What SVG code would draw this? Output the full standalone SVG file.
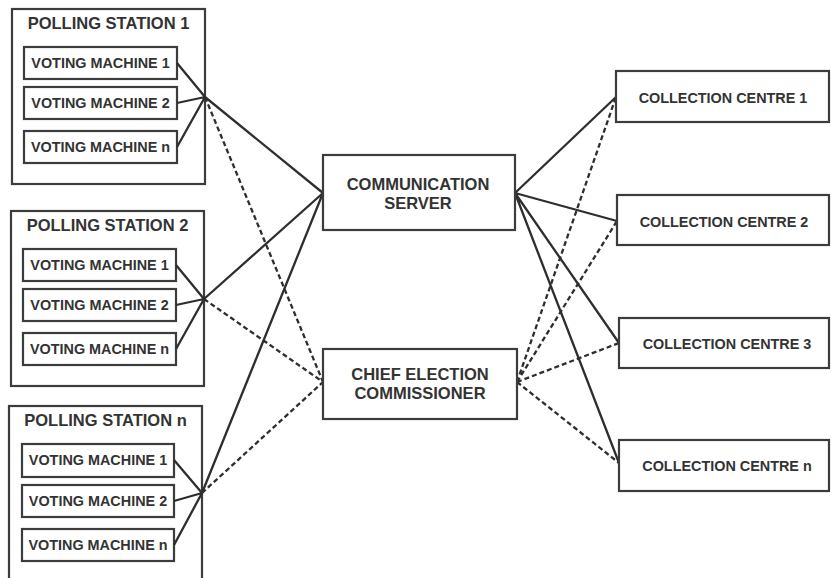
<svg xmlns="http://www.w3.org/2000/svg" width="831" height="578" viewBox="0 0 831 578">
<style>
.box{fill:#fff;stroke:#3c3c3c;stroke-width:2.2}
.t{font-family:"Liberation Sans",Arial,sans-serif;font-weight:bold;fill:#333;text-anchor:middle}
.big{font-size:16.5px}
.sm{font-size:14.4px}
.s{stroke:#2e2e2e;stroke-width:2.3;fill:none}
.d{stroke:#2e2e2e;stroke-width:2.3;fill:none;stroke-dasharray:5 3}
</style>
<rect width="831" height="578" fill="#fff"/>
<g id="ps1">
<rect class="box" x="12" y="9" width="193" height="175"/>
<text class="t big" x="108.5" y="29">POLLING STATION 1</text>
</g>
<g id="ps1-vm1"><rect class="box" x="24" y="47" width="153" height="32"/><text class="t sm" x="100.5" y="68">VOTING MACHINE 1</text></g>
<g id="ps1-vm2"><rect class="box" x="24" y="87" width="153" height="32"/><text class="t sm" x="100.5" y="108">VOTING MACHINE 2</text></g>
<g id="ps1-vmn"><rect class="box" x="24" y="131" width="153" height="32"/><text class="t sm" x="100.5" y="152">VOTING MACHINE n</text></g>
<g id="ps2">
<rect class="box" x="11" y="211" width="193" height="175"/>
<text class="t big" x="107.5" y="231">POLLING STATION 2</text>
</g>
<g id="ps2-vm1"><rect class="box" x="23" y="249" width="153" height="32"/><text class="t sm" x="99.5" y="270">VOTING MACHINE 1</text></g>
<g id="ps2-vm2"><rect class="box" x="23" y="289" width="153" height="32"/><text class="t sm" x="99.5" y="310">VOTING MACHINE 2</text></g>
<g id="ps2-vmn"><rect class="box" x="23" y="333" width="153" height="32"/><text class="t sm" x="99.5" y="354">VOTING MACHINE n</text></g>
<g id="psn">
<rect class="box" x="9" y="406" width="193" height="200"/>
<text class="t big" x="105.5" y="426">POLLING STATION n</text>
</g>
<g id="psn-vm1"><rect class="box" x="22" y="444" width="152" height="33"/><text class="t sm" x="98" y="465">VOTING MACHINE 1</text></g>
<g id="psn-vm2"><rect class="box" x="22" y="485" width="152" height="32"/><text class="t sm" x="98" y="506">VOTING MACHINE 2</text></g>
<g id="psn-vmn"><rect class="box" x="22" y="529" width="152" height="32"/><text class="t sm" x="98" y="550">VOTING MACHINE n</text></g>
<g id="connectors">
<path class="s" d="M177 63L205 97M177 103L205 97M177 147L205 97"/>
<path class="s" d="M176 265L204 299M176 305L204 299M176 349L204 299"/>
<path class="s" d="M174 460L202 493M174 501L202 493M174 545L202 493"/>
<path class="s" d="M205 97L323 193M204 299L323 193M202 493L323 193"/>
<path class="d" d="M205 97L323 382M204 299L323 382M202 493L323 382"/>
<path class="s" d="M515 193L616 97M515 193L617 221M515 193L619 343M515 193L619 463"/>
<path class="d" d="M517 382L616 97M517 382L617 221M517 382L619 343M517 382L619 463"/>
</g>
<g id="comm-server">
<rect class="box" x="323" y="155" width="192" height="75"/>
<text class="t big" x="418" y="190">COMMUNICATION</text>
<text class="t big" x="418" y="209">SERVER</text>
</g>
<g id="cec">
<rect class="box" x="323" y="349" width="194" height="70"/>
<text class="t big" x="420" y="380">CHIEF ELECTION</text>
<text class="t big" x="420" y="399">COMMISSIONER</text>
</g>
<g id="cc1"><rect class="box" x="616" y="71" width="213" height="51"/><text class="t sm" x="723" y="103">COLLECTION CENTRE 1</text></g>
<g id="cc2"><rect class="box" x="617" y="195" width="212" height="50"/><text class="t sm" x="724" y="227">COLLECTION CENTRE 2</text></g>
<g id="cc3"><rect class="box" x="619" y="318" width="210" height="50"/><text class="t sm" x="727" y="349">COLLECTION CENTRE 3</text></g>
<g id="ccn"><rect class="box" x="619" y="440" width="210" height="51"/><text class="t sm" x="727" y="471">COLLECTION CENTRE n</text></g>
</svg>
